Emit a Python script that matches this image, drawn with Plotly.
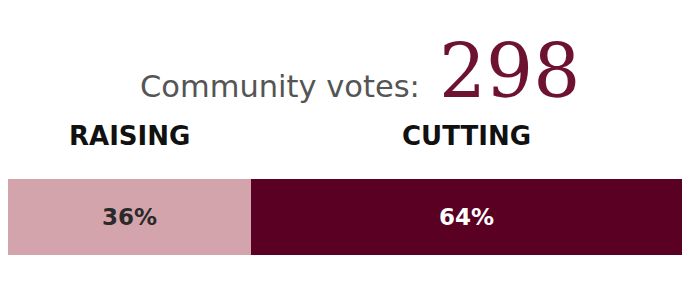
import plotly.graph_objects as go

# ---- data ----
categories = ["RAISING", "CUTTING"]
shares = [36, 64]
total_votes = 298
colors = ["#d4a4ac", "#5a0022"]
label_colors = ["#2a2a2a", "#ffffff"]

W, H = 696, 289
bar_left, bar_right = 8, 682
bar_top, bar_bottom = 179, 255

fig = go.Figure()
for cat, val, col, tcol in zip(categories, shares, colors, label_colors):
    fig.add_trace(go.Bar(
        x=[val], y=["votes"], orientation="h", name=cat,
        marker=dict(color=col, line=dict(width=0)),
        text=[f"{val}%"], textposition="inside", insidetextanchor="middle",
        textfont=dict(family="DejaVu Sans", size=23, color=tcol, weight="bold"),
        hoverinfo="skip",
    ))

# category labels centered over each segment
cum = 0
for cat, val in zip(categories, shares):
    mid = cum + val / 2
    cum += val
    fig.add_annotation(
        x=mid, xref="x", y=1 - 136 / H, yref="paper",
        text=cat, showarrow=False, xanchor="center", yanchor="middle",
        font=dict(family="DejaVu Sans", size=26, color="#111111", weight="bold"),
    )

fig.add_annotation(
    x=422 / W, xref="paper", y=1 - 87 / H, yref="paper",
    text="Community votes:", showarrow=False, xanchor="right", yanchor="middle",
    font=dict(family="DejaVu Sans", size=30.5, color="#555555"),
)
fig.add_annotation(
    x=437 / W, xref="paper", y=1 - 71 / H, yref="paper",
    text=str(total_votes), showarrow=False, xanchor="left", yanchor="middle",
    font=dict(family="DejaVu Serif", size=74, color="#6e1232"),
)

fig.update_layout(
    width=W, height=H,
    margin=dict(l=0, r=0, t=0, b=0),
    paper_bgcolor="white", plot_bgcolor="white",
    barmode="stack", bargap=0, showlegend=False,
    xaxis=dict(domain=[bar_left / W, bar_right / W], range=[0, sum(shares)],
               visible=False, fixedrange=True),
    yaxis=dict(domain=[1 - bar_bottom / H, 1 - bar_top / H], visible=False,
               fixedrange=True),
)

fig.write_html("out.html", config={"displayModeBar": False})
